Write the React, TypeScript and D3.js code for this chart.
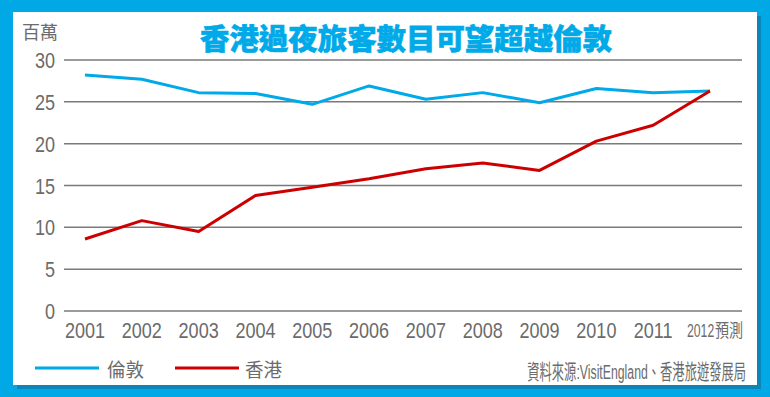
import React from "react";
import * as d3 from "d3";

const years = ["2001","2002","2003","2004","2005","2006","2007","2008","2009","2010","2011","2012"];
const londonValues = [28.2, 27.7, 26.1, 26.0, 24.7, 26.9, 25.3, 26.1, 24.9, 26.6, 26.1, 26.3];
const hongKongValues = [8.6, 10.8, 9.5, 13.8, 14.8, 15.8, 17.0, 17.7, 16.8, 20.3, 22.2, 26.3];
const yTicks = [0, 5, 10, 15, 20, 25, 30];
const seriesNames = ["倫敦", "香港"];
const titleText = "香港過夜旅客數目可望超越倫敦";
const unitText = "百萬";
const forecastSuffix = "預測";
const sourceText = "資料來源:VisitEngland、香港旅遊發展局";

const W = 770, H = 397;
const BG = "#00A8E6";
const BLUE = "#00A9E8";
const RED = "#CC0000";
const GRAY = "#6b6b6b";
const NUM_FONT = "'Liberation Sans', Arial, 'Noto Sans CJK TC', sans-serif";
const CJK_FONT = "'Noto Sans CJK TC', 'Liberation Sans', sans-serif";
const NARROW = 0.82;

export default function App() {
  const x = d3.scalePoint<string>().domain(years).range([85, 710]);
  const y = d3.scaleLinear().domain([0, 30]).range([311, 60]);
  const line = d3.line<number>().x((_, i) => x(years[i]) as number).y((d) => y(d));

  return (
    <svg width={W} height={H} style={{ position: "absolute", left: 0, top: 0 }}>
      <rect x={0} y={0} width={W} height={H} fill={BG} />
      <rect x={17} y={16} width={744} height={373} fill="#0a86b8" />
      <rect x={13} y={12} width={744} height={373} fill="#ffffff" />

      <text x={200} y={50} fontFamily={CJK_FONT} fontWeight={900} fontSize={29} fill={BLUE}
        stroke={BLUE} strokeWidth={0.6}
        textLength={412} lengthAdjust="spacingAndGlyphs">{titleText}</text>

      <text x={22} y={39} fontFamily={CJK_FONT} fontSize={18} fill={GRAY}
        textLength={36} lengthAdjust="spacingAndGlyphs">{unitText}</text>

      {yTicks.map((t) => (
        <g key={t}>
          <line x1={64} x2={742} y1={y(t)} y2={y(t)} stroke="#7a7a7a" strokeWidth={1.5} />
          <text transform={`translate(55,${y(t) + 8}) scale(${NARROW},1)`} textAnchor="end"
            fontFamily={NUM_FONT} fontSize={22} fill={GRAY}>{t}</text>
        </g>
      ))}

      {years.map((yr, i) =>
        i < years.length - 1 ? (
          <text key={yr} transform={`translate(${x(yr)},338) scale(${NARROW},1)`} textAnchor="middle"
            fontFamily={NUM_FONT} fontSize={22} fill={GRAY}>{yr}</text>
        ) : (
          <g key={yr}>
            <text transform={`translate(${(x(yr) as number) - 23},337) scale(0.68,1)`}
              fontFamily={NUM_FONT} fontSize={18} fill={GRAY}>{yr}</text>
            <text transform={`translate(${(x(yr) as number) + 5},337) scale(0.78,1)`}
              fontFamily={CJK_FONT} fontSize={18} fill={GRAY}>{forecastSuffix}</text>
          </g>
        )
      )}

      <path d={line(londonValues) || ""} fill="none" stroke={BLUE} strokeWidth={3} strokeLinejoin="round" />
      <path d={line(hongKongValues) || ""} fill="none" stroke={RED} strokeWidth={3} strokeLinejoin="round" />

      <line x1={35} x2={99} y1={368} y2={368} stroke={BLUE} strokeWidth={3} />
      <text x={107} y={377} fontFamily={CJK_FONT} fontSize={19} fill={GRAY}
        textLength={37} lengthAdjust="spacingAndGlyphs">{seriesNames[0]}</text>
      <line x1={175} x2={239} y1={368} y2={368} stroke={RED} strokeWidth={3} />
      <text x={245} y={377} fontFamily={CJK_FONT} fontSize={19} fill={GRAY}
        textLength={37} lengthAdjust="spacingAndGlyphs">{seriesNames[1]}</text>

      <text transform="translate(746,379) scale(0.585,1)" textAnchor="end"
        fontFamily={NUM_FONT} fontSize={21} fill={GRAY}>{sourceText}</text>
    </svg>
  );
}
